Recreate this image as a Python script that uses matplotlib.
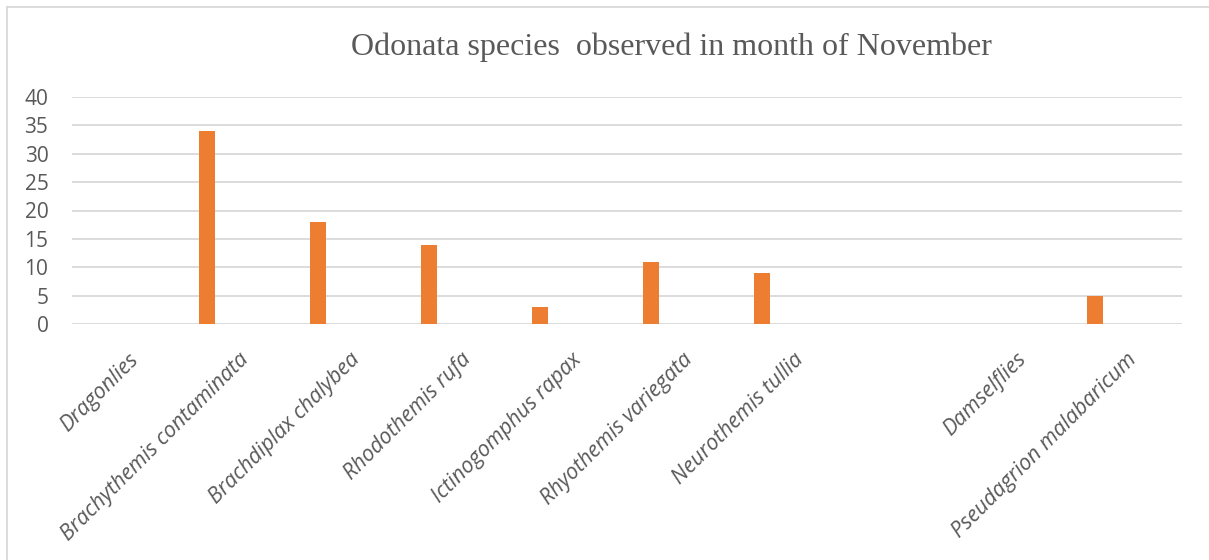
import matplotlib
matplotlib.use("Agg")
import matplotlib.pyplot as plt
import numpy as np
from matplotlib.lines import Line2D

categories = ["Dragonlies", "Brachythemis contaminata", "Brachdiplax chalybea",
              "Rhodothemis rufa", "Ictinogomphus rapax", "Rhyothemis variegata",
              "Neurothemis tullia", "", "Damselflies", "Pseudagrion malabaricum"]
november = [0, 34, 18, 14, 3, 11, 9, 0, 0, 5]
yticks = [0, 5, 10, 15, 20, 25, 30, 35, 40]
title = "Odonata species  observed in month of November"

W, H, DPI = 1209, 560, 100
fig = plt.figure(figsize=(W / DPI, H / DPI), dpi=DPI)

# plot area in pixel terms
left, right, top, bottom = 72, 1182, 97, 324
ax = fig.add_axes([left / W, 1 - bottom / H, (right - left) / W, (bottom - top) / H])

x = np.arange(len(categories))
ax.bar(x - 0.284, november, width=0.144, color="#ED7D31", zorder=3)

ax.set_xlim(-0.5, len(categories) - 0.5)
ax.set_ylim(0, 40)
ax.set_yticks(yticks)
ax.yaxis.grid(True, color="#D9D9D9", linewidth=1.3, zorder=0)
for s in ax.spines.values():
    s.set_visible(False)
ax.tick_params(axis="both", length=0)
ax.tick_params(axis="y", pad=17, labelsize=15, labelcolor="#595959")
for lab in ax.get_yticklabels():
    lab.set_fontfamily("Open Sans")

ax.set_xticks(x)
ax.set_xticklabels(categories, rotation=45, ha="right", rotation_mode="anchor",
                   fontsize=15.5, color="#595959", fontstyle="italic",
                   fontfamily="Open Sans")
ax.tick_params(axis="x", pad=18)

fig.text(671 / W, 1 - 47 / H, title, ha="center", va="center",
         fontfamily="Liberation Serif", fontsize=23, color="#595959")

# chart frame (top and left edges)
fig.add_artist(Line2D([7 / W, 1], [1 - 7 / H, 1 - 7 / H], color="#D9D9D9",
                      linewidth=1.3, transform=fig.transFigure))
fig.add_artist(Line2D([7 / W, 7 / W], [0, 1 - 7 / H], color="#D9D9D9",
                      linewidth=1.3, transform=fig.transFigure))

fig.savefig("out.png", dpi=DPI, facecolor="white")
